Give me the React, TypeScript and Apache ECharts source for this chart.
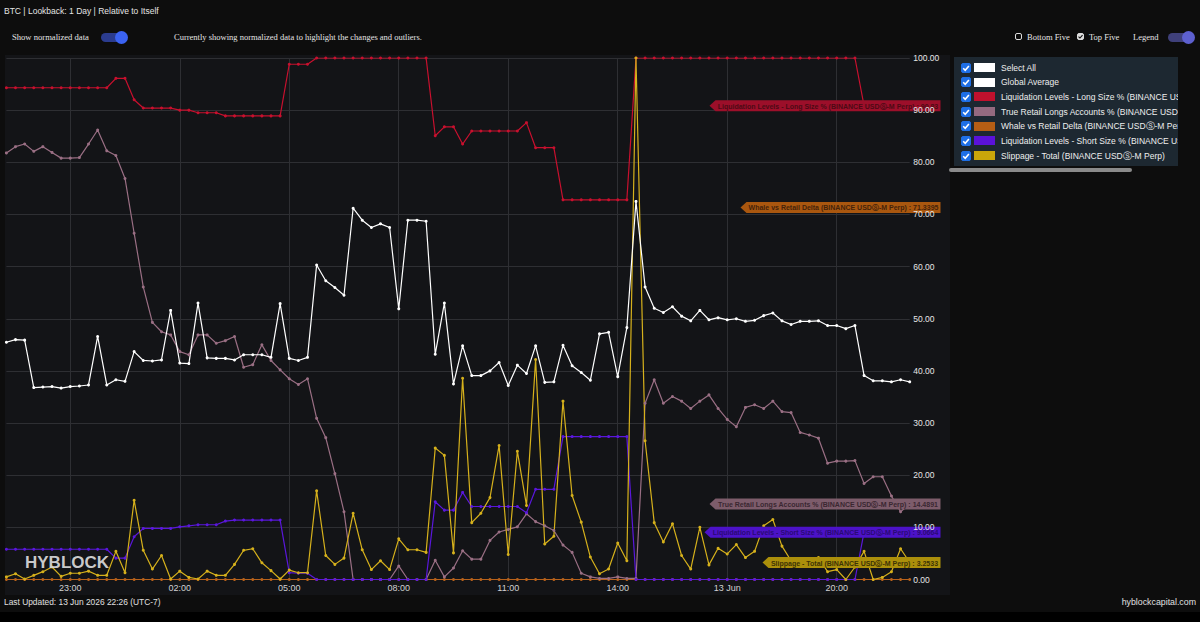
import React, { useEffect, useRef } from 'react';
import * as echarts from 'echarts';

const SANS = '"Liberation Sans", Arial, Helvetica, sans-serif';
const SERIF = '"Liberation Serif", "Times New Roman", serif';

// ---- categories (15-minute steps) ----
const startUtc = Date.UTC(2026, 5, 12, 21, 15);
const categories: string[] = Array.from({ length: 100 }, (_, i) => {
  const d = new Date(startUtc + i * 15 * 60000);
  return `${d.getUTCDate()} Jun ${String(d.getUTCHours()).padStart(2, '0')}:${String(d.getUTCMinutes()).padStart(2, '0')}`;
});
const xTickTimes = ['23:00', '02:00', '05:00', '08:00', '11:00', '14:00', '17:00', '20:00'];
const xTickLabels = ['23:00', '02:00', '05:00', '08:00', '11:00', '14:00', '13 Jun', '20:00'];

// ---- series names / colours ----
const seriesNames = [
  'Global Average',
  'Liquidation Levels - Long Size % (BINANCE USDⓈ-M Perp)',
  'True Retail Longs Accounts % (BINANCE USDⓈ-M Perp)',
  'Whale vs Retail Delta (BINANCE USDⓈ-M Perp)',
  'Liquidation Levels - Short Size % (BINANCE USDⓈ-M Perp)',
  'Slippage - Total (BINANCE USDⓈ-M Perp)',
];
const seriesColors = ['#ffffff', '#c8102e', '#9a6f84', '#b8621b', '#5a17dc', '#d6b11c'];
const tagBg = ['#ffffff', '#9c0f2a', '#7d5c6b', '#a9570f', '#4c12c8', '#ab8f0b'];
const tagFg = ['#000000', '#4d0a15', '#3a2731', '#45230a', '#2a0a75', '#3d3305'];

// ---- values ----
const globalAverage = [
  45.5, 46.0, 45.9, 36.8, 36.9, 37.0, 36.7, 37.0, 37.1, 37.3,
  46.6, 37.3, 38.3, 38.0, 43.7, 42.0, 41.9, 42.1, 51.6, 41.5,
  41.4, 53.0, 42.5, 42.4, 42.4, 42.1, 43.1, 43.1, 43.1, 42.6,
  52.9, 42.4, 42.0, 42.6, 60.3, 57.3, 56.0, 54.5, 71.2, 68.9,
  67.5, 68.2, 67.5, 51.9, 68.9, 68.9, 68.7, 43.2, 53.0, 37.5,
  44.8, 39.1, 39.1, 40.0, 41.6, 37.2, 41.1, 39.5, 44.8, 37.8,
  37.9, 44.9, 41.0, 39.7, 38.2, 47.1, 47.4, 38.9, 48.3, 72.5,
  56.1, 52.0, 51.2, 52.3, 50.5, 49.6, 51.6, 49.8, 50.2, 49.8,
  50.0, 49.5, 49.7, 50.6, 51.1, 49.6, 48.9, 49.5, 49.5, 49.6,
  48.7, 48.7, 48.1, 48.7, 39.1, 38.1, 38.1, 37.9, 38.3, 37.9,
];
const liqLong = [
  94.3, 94.3, 94.3, 94.3, 94.3, 94.3, 94.3, 94.3, 94.3, 94.3,
  94.3, 94.3, 96.1, 96.1, 92.0, 90.4, 90.4, 90.4, 90.4, 90.0,
  90.0, 89.5, 89.5, 89.5, 88.9, 88.9, 88.9, 88.9, 88.9, 88.9,
  88.9, 98.8, 98.8, 98.8, 100, 100, 100, 100, 100, 100,
  100, 100, 100, 100, 100, 100, 100, 85.1, 86.8, 86.8,
  83.5, 86.0, 86.0, 86.0, 86.0, 86.0, 86.0, 87.6, 82.8, 82.8,
  82.8, 72.8, 72.8, 72.8, 72.8, 72.8, 72.8, 72.8, 72.8, 100,
  100, 100, 100, 100, 100, 100, 100, 100, 100, 100,
  100, 100, 100, 100, 100, 100, 100, 100, 100, 100,
  100, 100, 100, 100, 90.83, 90.83, 90.83, 90.83, 90.83, 90.83,
];
const trueRetail = [
  81.8, 83.0, 83.5, 82.1, 83.0, 81.9, 80.8, 80.8, 80.9, 83.5,
  86.2, 82.2, 81.3, 76.9, 66.4, 56.1, 49.3, 47.5, 46.9, 43.7,
  43.1, 46.9, 46.9, 45.3, 45.8, 46.6, 40.7, 41.2, 45.0, 42.0,
  40.2, 38.5, 37.4, 38.5, 30.9, 27.2, 20.3, 13.0, 0, 0,
  0, 0, 0, 2.6, 0, 0, 0, 3.7, 0.5, 2.2,
  5.5, 3.9, 3.9, 7.5, 9.1, 9.6, 10.1, 12.6, 11.1, 10.3,
  9.4, 6.6, 5.2, 1.2, 0.5, 0.2, 0.2, 0.5, 0.2, 0.2,
  33.8, 38.3, 33.8, 35.1, 34.2, 32.8, 34.2, 35.4, 32.8, 30.7,
  29.3, 33.0, 33.5, 32.8, 34.2, 32.2, 32.0, 28.2, 27.7, 27.1,
  22.3, 22.7, 22.7, 22.8, 18.4, 19.7, 19.7, 16.0, 13.0, 14.4891,
];
const whaleDelta = [
  0, 0, 0, 0, 0, 0, 0, 0, 0, 0, 0, 0, 0, 0, 0, 0, 0, 0, 0, 0,
  0, 0, 0, 0, 0, 0, 0, 0, 0, 0, 0, 0, 0, 0, 0, 0, 0, 0, 0, 0,
  0, 0, 0, 0, 0, 0, 0, 0, 0, 0, 0, 0, 0, 0, 0, 0, 0, 0, 0, 0,
  0, 0, 0, 0, 0, 0, 0, 0, 0, 0, 0, 0, 0, 0, 0, 0, 0, 0, 0, 0,
  0, 0, 0, 0, 0, 0, 0, 0, 0, 0, 0, 0, 0, 0, 0, 0, 0, 0, 0, 0,
];
const liqShort = [
  5.8, 5.8, 5.8, 5.8, 5.8, 5.8, 5.8, 5.8, 5.8, 5.8,
  5.8, 5.8, 4.1, 4.1, 8.2, 9.8, 9.8, 9.8, 9.8, 10.1,
  10.3, 10.5, 10.5, 10.5, 11.2, 11.4, 11.4, 11.4, 11.4, 11.4,
  11.4, 1.3, 1.2, 1.2, 0, 0, 0, 0, 0, 0,
  0, 0, 0, 0, 0, 0, 0, 14.9, 13.3, 13.3,
  16.7, 14.0, 14.0, 14.0, 14.0, 14.0, 14.0, 12.8, 17.3, 17.3,
  17.3, 27.4, 27.4, 27.4, 27.4, 27.4, 27.4, 27.4, 27.4, 0,
  0, 0, 0, 0, 0, 0, 0, 0, 0, 0,
  0, 0, 0, 0, 0, 0, 0, 0, 0, 0,
  0, 0, 0, 0, 9.0664, 9.0664, 9.0664, 9.0664, 9.0664, 9.0664,
];
const slippage = [
  0.5, 1.1, 0.1, 0.8, 1.5, 2.4, 0.6, 1.2, 1.2, 1.6,
  0.8, 0.8, 5.4, 1.3, 15.2, 5.6, 2.0, 4.6, 0.1, 1.6,
  0.4, 0.1, 1.6, 0.8, 0.8, 2.9, 5.6, 5.9, 3.2, 1.7,
  0.1, 1.8, 1.3, 1.3, 17.0, 4.6, 2.9, 4.1, 12.7, 5.7,
  1.9, 3.6, 1.9, 7.8, 5.7, 5.7, 5.2, 25.2, 23.8, 5.1,
  38.6, 10.9, 12.7, 15.7, 25.7, 4.8, 24.6, 14.2, 42.2, 6.8,
  8.3, 34.2, 16.1, 11.0, 4.3, 1.1, 2.0, 7.0, 3.6, 100,
  26.6, 10.9, 7.2, 10.7, 4.6, 2.0, 10.0, 2.8, 6.0, 4.9,
  6.7, 4.2, 5.4, 10.3, 11.5, 6.4, 3.6, 3.3, 3.4, 4.2,
  1.5, 1.9, 0, 2.4, 5.4, 0, 0.4, 1.5, 5.9, 3.2533,
];
const seriesData = [globalAverage, liqLong, trueRetail, whaleDelta, liqShort, slippage];
const drawOrder = [3, 2, 1, 4, 5, 0];

// value tags on the right axis (series index, value shown)
const tagSeriesIndex = [1, 3, 2, 4, 5];
const tagValues = [90.83, 71.3395, 14.4891, 9.0664, 3.2533];

const legendItems = [
  { name: 'Select All', color: '#ffffff' },
  ...seriesNames.map((n, i) => ({ name: n, color: i === 0 ? '#ffffff' : seriesColors[i] })),
];
legendItems[2].color = '#c0112d';
legendItems[3].color = '#946a80';
legendItems[4].color = '#b55e14';
legendItems[5].color = '#5b12d9';
legendItems[6].color = '#c9a60a';

const Check = ({ size, bg, border, tick }: { size: number; bg: string; border: string; tick?: string }) => (
  <div style={{ width: size, height: size, boxSizing: 'border-box', background: bg, border: `1px solid ${border}`, borderRadius: 2, position: 'relative' }}>
    {tick ? (
      <svg width={size} height={size} viewBox="0 0 10 10" style={{ position: 'absolute', left: -1, top: -1 }}>
        <polyline points="2.2,5.2 4.2,7.2 7.9,2.9" fill="none" stroke={tick} strokeWidth={1.6} />
      </svg>
    ) : null}
  </div>
);

const Toggle = ({ left, track, knob }: { left: number; track: string; knob: string }) => (
  <div style={{ position: 'absolute', left, top: 31, width: 27, height: 13 }}>
    <div style={{ position: 'absolute', left: 0, top: 2, width: 25, height: 9, borderRadius: 5, background: track }} />
    <div style={{ position: 'absolute', left: 14, top: 0, width: 13, height: 13, borderRadius: 7, background: knob }} />
  </div>
);

export default function App() {
  const ref = useRef<HTMLDivElement>(null);

  useEffect(() => {
    const chart = echarts.init(ref.current as HTMLDivElement, null, { renderer: 'svg' });
    const gridLeft = 6.4;
    const gridRight = 290.3;
    const tagRightGap = 30.8;
    const tagH = 11;
    const arrowW = 6;
    const padX = 2;
    const tagFontSize = 7;
    const ctx = document.createElement('canvas').getContext('2d') as CanvasRenderingContext2D;
    ctx.font = `bold ${tagFontSize}px ${SANS}`;
    const lastIdx = categories.length - 1;

    const lineSeries = drawOrder.map((si) => ({
      type: 'line',
      name: seriesNames[si],
      data: seriesData[si],
      yAxisIndex: 0,
      symbol: 'circle',
      symbolSize: 3,
      showSymbol: true,
      showAllSymbol: true,
      lineStyle: { color: seriesColors[si], width: 1.2 },
      itemStyle: { color: seriesColors[si] },
      emphasis: { disabled: true },
      silent: true,
      z: 2,
    }));

    const tagSeries = tagSeriesIndex.map((si, k) => {
      const text = `${seriesNames[si]} : ${tagValues[k]}`;
      const w = Math.ceil(ctx.measureText(text).width) + arrowW + padX * 2;
      return {
        type: 'scatter',
        name: 'tag' + k,
        yAxisIndex: 0,
        silent: true,
        clip: false,
        z: 20,
        data: [[lastIdx, tagValues[k]]],
        symbol: `path://M0,${tagH / 2} L${arrowW},0 L${w},0 L${w},${tagH} L${arrowW},${tagH} Z`,
        symbolSize: [w, tagH],
        symbolOffset: [tagRightGap - w / 2, 0],
        itemStyle: { color: tagBg[si], opacity: 1 },
        label: {
          show: true,
          position: 'inside',
          offset: [arrowW / 2, 0.5],
          formatter: () => text,
          color: tagFg[si],
          fontSize: tagFontSize,
          fontWeight: 'bold',
          fontFamily: SANS,
        },
        emphasis: { disabled: true },
      };
    });

    const isTick = (idx: number, value: string) => xTickTimes.indexOf(String(value).slice(-5)) >= 0;

    chart.setOption({
      animation: false,
      backgroundColor: 'transparent',
      textStyle: { fontFamily: SANS },
      grid: { left: gridLeft, right: gridRight, top: 58, bottom: 42.5, outerBoundsMode: 'none' },
      xAxis: {
        type: 'category',
        data: categories,
        boundaryGap: false,
        axisLine: { show: false },
        axisTick: { show: false },
        axisLabel: {
          interval: isTick,
          formatter: (value: string) => xTickLabels[xTickTimes.indexOf(String(value).slice(-5))],
          color: '#d2d2d2',
          fontSize: 9,
          margin: 4,
        },
        splitLine: { show: true, interval: isTick, lineStyle: { color: '#2e2f33', width: 1 } },
      },
      yAxis: [
        {
          type: 'value',
          position: 'right',
          min: 0,
          max: 100,
          interval: 10,
          axisLine: { show: false },
          axisTick: { show: false },
          axisLabel: { show: false },
          splitLine: { show: true, lineStyle: { color: '#2e2f33', width: 1 } },
          z: 0,
        },
        {
          type: 'value',
          position: 'right',
          min: 0,
          max: 100,
          interval: 10,
          axisLine: { show: false },
          axisTick: { show: false },
          splitLine: { show: false },
          axisLabel: {
            color: '#e6e6e6',
            fontSize: 8.5,
            margin: 3.5,
            formatter: (v: number) => v.toFixed(2),
          },
          z: 50,
        },
      ],
      graphic: [
        {
          type: 'text',
          left: 25,
          top: 554,
          z: 40,
          style: { text: 'HYBLOCK', fill: '#d6d6d6', font: `bold 17px ${SANS}`, opacity: 0.95 },
        },
      ],
      series: [...lineSeries, ...tagSeries],
    });
    return () => chart.dispose();
  }, []);

  const txt = (extra: React.CSSProperties): React.CSSProperties => ({
    position: 'absolute',
    whiteSpace: 'nowrap',
    color: '#e4e4e4',
    lineHeight: 1,
    ...extra,
  });

  return (
    <div style={{ position: 'fixed', left: 0, top: 0, width: 1200, height: 622, background: '#0d0d0d', overflow: 'hidden', fontFamily: SANS }}>
      <div style={{ position: 'absolute', left: 5, top: 55, width: 945, height: 540, background: '#131417' }} />
      <div style={{ position: 'absolute', left: 0, top: 612, width: 1200, height: 10, background: '#000000' }} />
      <div ref={ref} style={{ position: 'absolute', left: 0, top: 0, width: 1200, height: 622 }} />

      {/* header */}
      <div style={txt({ left: 4, top: 7, fontSize: 8.5, fontFamily: SANS })}>BTC | Lookback: 1 Day | Relative to Itself</div>
      <div style={txt({ left: 12, top: 33, fontSize: 8.6, fontFamily: SERIF })}>Show normalized data</div>
      <Toggle left={101} track="#2b3c8f" knob="#3b63f2" />
      <div style={txt({ left: 174, top: 33, fontSize: 8.5, fontFamily: SERIF })}>
        Currently showing normalized data to highlight the changes and outliers.
      </div>
      <div style={{ position: 'absolute', left: 1015, top: 33 }}>
        <Check size={7} bg="#0d0d0d" border="#dcdcdc" />
      </div>
      <div style={txt({ left: 1027, top: 33, fontSize: 8.5, fontFamily: SERIF })}>Bottom Five</div>
      <div style={{ position: 'absolute', left: 1077, top: 33 }}>
        <Check size={7} bg="#dcdcdc" border="#dcdcdc" tick="#111111" />
      </div>
      <div style={txt({ left: 1089, top: 33, fontSize: 8.5, fontFamily: SERIF })}>Top Five</div>
      <div style={txt({ left: 1133, top: 33, fontSize: 8.5, fontFamily: SERIF })}>Legend</div>
      <Toggle left={1168} track="#3f407a" knob="#5d60cf" />

      {/* legend panel */}
      <div style={{ position: 'absolute', left: 954, top: 57, width: 224, height: 109, background: '#1d2831', overflow: 'hidden' }}>
        {legendItems.map((it, i) => (
          <div key={i} style={{ position: 'absolute', left: 0, top: 4 + i * 14.67, height: 13, width: 400 }}>
            <div style={{ position: 'absolute', left: 7, top: 1.5 }}>
              <Check size={10} bg="#1e6fe6" border="#1e6fe6" tick="#ffffff" />
            </div>
            <div style={{ position: 'absolute', left: 20, top: 2, width: 21, height: 9, background: it.color }} />
            <div style={txt({ left: 47, top: 2.5, fontSize: 8.5, color: '#eeeeee' })}>{it.name}</div>
          </div>
        ))}
      </div>
      <div style={{ position: 'absolute', left: 949, top: 168, width: 183, height: 4, borderRadius: 2, background: '#8a8a8a' }} />

      {/* footer */}
      <div style={txt({ left: 4, top: 598, fontSize: 8.4, color: '#e0e0e0' })}>Last Updated: 13 Jun 2026 22:26 (UTC-7)</div>
      <div style={txt({ right: 4, top: 598, fontSize: 8.8, color: '#e0e0e0' })}>hyblockcapital.com</div>
    </div>
  );
}
